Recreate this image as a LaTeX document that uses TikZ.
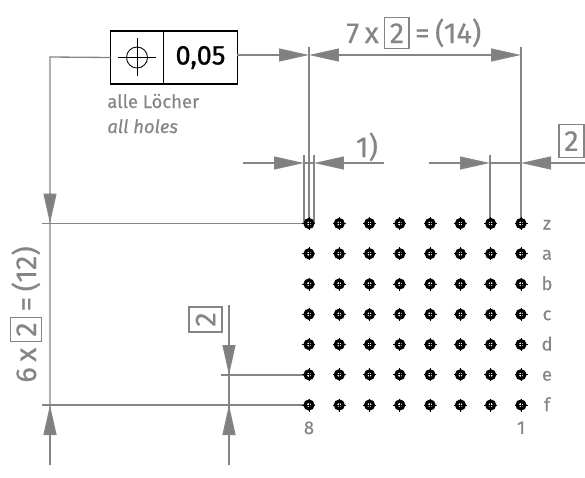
\documentclass[tikz,border=0pt]{standalone}
\usepackage{fontspec}
\setmainfont{Fira Sans}
\newfontfamily\medfont[FakeBold=0.35]{Fira Sans}
\newfontfamily\tolfont[FakeBold=0.9]{Fira Sans}
\usepackage{xcolor}
\usetikzlibrary{arrows.meta,positioning}
\definecolor{dimgray}{HTML}{858585}
\newcommand{\theobox}[1]{{\setlength{\fboxsep}{2.5pt}\setlength{\fboxrule}{0.6pt}\fbox{\rule[-0.3pt]{0pt}{12.2pt}#1}}}
\newcommand{\tightspace}{\spaceskip=0.19em\relax}
\begin{document}
\begin{tikzpicture}[x=0.02cm,y=-0.02cm,
  dimline/.style={dimgray,line width=0.75pt},
  thinline/.style={dimgray,line width=0.6pt},
  dimtip/.style={dimgray,line width=0.75pt,-{Triangle[length=0.6cm,width=0.26cm,fill=gray]}},
  bigtext/.style={text=dimgray,font=\medfont\fontsize{16.5}{18}\selectfont,inner sep=0pt},
  smalltext/.style={text=dimgray,font=\medfont\fontsize{10.5}{12}\selectfont,inner sep=0pt},
  theoframe/.style={draw=dimgray,line width=0.6pt,text=dimgray,font=\medfont\fontsize{16.5}{18}\selectfont,inner sep=0pt,minimum height=0.66cm,minimum width=0.5cm},
  tolcell/.style={draw=black,line width=1pt,minimum height=1.06cm,inner sep=0pt,outer sep=0pt},
  hole/.style={circle,draw=black,fill=white,line width=1.85pt,minimum size=0.154cm,inner sep=0pt,outer sep=0pt}]
\useasboundingbox (0,0) rectangle (585,477);

% tolerance frame
\node[tolcell,minimum width=1.06cm] (sym) at (137,57.5) {};
\node[tolcell,minimum width=1.48cm,right=0pt of sym,font=\tolfont\fontsize{15.5}{18}\selectfont] (val) {0,05};
\draw[black,line width=0.5pt] (sym.center) circle (10.5);
\draw[black,line width=0.5pt] (118,57) -- (156,57) (137,38) -- (137,76);
\node[smalltext,anchor=base west] (de) at (107,108) {alle Löcher};
\node[smalltext,anchor=base west,font=\medfont\fontsize{10.5}{12}\selectfont\itshape] (en) at (107,133) {all holes};

\coordinate (tl) at (309,223.5);
\coordinate (tr) at (521,223.5);
\coordinate (lb) at (50,405);
\coordinate (lt) at (50,57);
\coordinate (le) at (50,223.5);
\coordinate (lo) at (50,465);
\coordinate (hl) at (42,223.5);
\coordinate (fl) at (42,405);
\coordinate (mt) at (229,305);
\coordinate (mb) at (229,465);
\coordinate (me) at (229,375);
\coordinate (mf) at (229,405);
\coordinate (el) at (221,375);
\coordinate (ta) at (309,55);
\coordinate (tb) at (521,55);

% extension lines
\foreach \x in {309,521}{
\draw[thinline] (\x,47) -- (\x,223.5);
}
\foreach \x in {304,314,490}{
\draw[thinline] (\x,155) -- (\x,223.5);
}
\draw[dimline] (hl) -- (tl);
\draw[dimline] (fl) -- (309,405);
\draw[dimline] (el) -- (309,375);

% leader from the frame
\draw[dimline] (sym.west) -- (lt) -- (lo);
\draw[dimline] (mt) -- (mb);
\draw[dimtip] (50,193) -- (le);
\draw[dimtip] (lo) -- (lb);
\draw[dimtip] (229,344) -- (me);
\draw[dimtip] (mb) -- (mf);

% dimension arrows on top
\draw[dimtip] (val.east |- ta) -- (ta);
\draw[dimtip] (400,55) -- (ta);
\draw[dimtip] (400,55) -- (tb);
\draw[dimtip] (243,163) -- (304,163);
\draw[dimline] (304,163) -- (314,163);
\draw[dimtip] (384,163) -- (314,163);
\draw[dimtip] (429,163) -- (490,163);
\draw[dimline] (490,163) -- (521,163);
\draw[dimtip] (585,163) -- (521,163);

% labels
\node[bigtext,anchor=base west] (seven) at (346,43) {\tightspace 7 x \theobox{2} = (14)};
\node[bigtext,anchor=base] (note) at (367,157) {1)};
\node[theoframe,anchor=north east] (two) at (584.5,124) {2};
\node[bigtext,anchor=base west,rotate=90] (six) at (36,383) {\tightspace 6 x \theobox{2} = (12)};
\node[theoframe,rotate=90] (twoleft) at (205.5,319.5) {2};

% hole pattern
\foreach \r [count=\i from 0] in {z,a,b,c,d,e,f}{
\foreach \c in {1,...,8}{
\pgfmathsetmacro{\x}{521-(\c-1)*30.29}
\pgfmathsetmacro{\y}{223.5+\i*30.25}
\draw[black,line width=0.5pt] (\x-6.5,\y) -- (\x+6.5,\y) (\x,\y-6.5) -- (\x,\y+6.5);
\node[hole] (h\c\r) at (\x,\y) {};
\draw[black,line width=0.35pt] (\x-2.2,\y) -- (\x+2.2,\y) (\x,\y-2.2) -- (\x,\y+2.2);
}
\node[smalltext,anchor=base] (row\r) at (547,{223.5+\i*30.25+6}) {\r};
}
\node[smalltext,below=7pt of h8f] (col8) {8};
\node[smalltext,below=7pt of h1f] (col1) {1};
\end{tikzpicture}
\end{document}
